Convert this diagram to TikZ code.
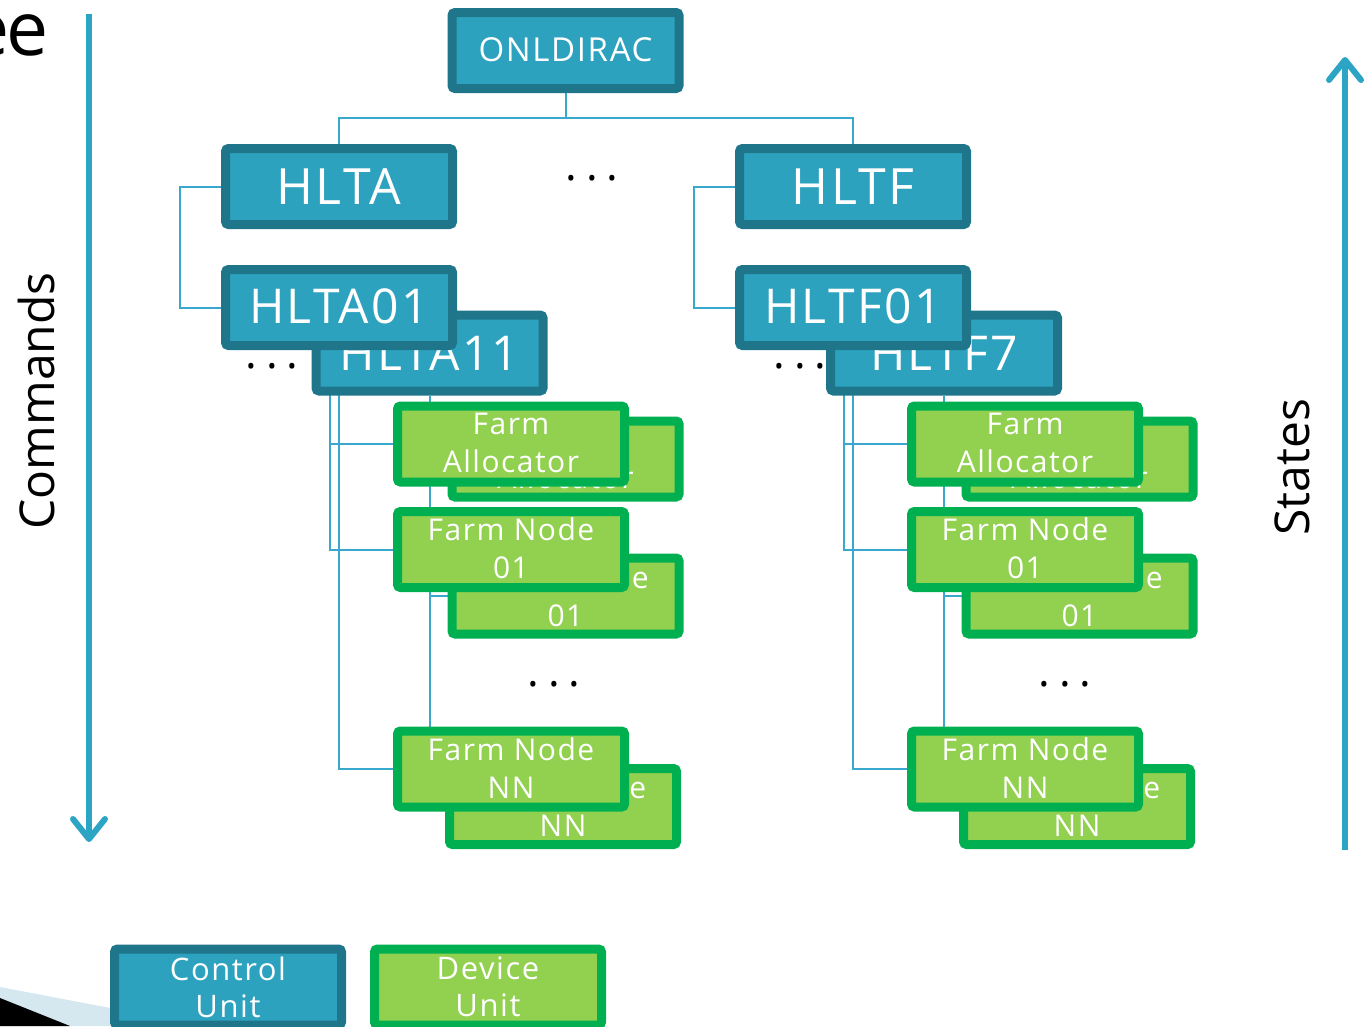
\documentclass[tikz,border=0pt]{standalone}
\usepackage{fontspec}
\setmainfont{Open Sans}
\newfontfamily\boxfont[LetterSpace=5]{Open Sans}
\usetikzlibrary{arrows.meta}
\definecolor{cufill}{HTML}{2CA2BF}
\definecolor{cuborder}{HTML}{1F7589}
\definecolor{dufill}{HTML}{92D050}
\definecolor{duborder}{HTML}{00B050}
\definecolor{linkc}{HTML}{3AA8CC}
\definecolor{arrowc}{HTML}{2CA4C4}
\definecolor{wedgeblue}{HTML}{D5E8F0}
\pgfdeclarelayer{bg}
\pgfsetlayers{bg,main}
\tikzset{
  unitbox/.style={line width=9pt, rounded corners=3pt, minimum width=227pt,
    minimum height=76pt, inner sep=0pt, text=white, align=center},
  cubox/.style={unitbox, draw=cuborder, fill=cufill},
  dubox/.style={unitbox, draw=duborder, fill=dufill,
    font=\boxfont\fontsize{30}{38}\selectfont},
  bigfont/.style={font=\boxfont\fontsize{50}{50}\selectfont},
  midfont/.style={font=\boxfont\fontsize{48}{48}\selectfont},
  link/.style={draw=linkc, line width=2pt},
  bigarrow/.style={draw=arrowc, line width=6pt, -{Straight Barb[length=20pt,width=32pt,round]}},
  dots/.style={font=\fontsize{44}{44}\selectfont, text=black, inner sep=0pt}
}
\newcommand{\dotrow}{.\kern9pt.\kern9pt.}
\begin{document}
\begin{tikzpicture}[x=1pt,y=-1pt]
\useasboundingbox (0,0) rectangle (1364,1026);
\clip (0,0) rectangle (1364,1026);

% decorative wedge bottom-left
\fill[wedgeblue] (0,987) -- (205,1026) -- (0,1026) -- cycle;
\fill[black] (0,998) -- (70,1026) -- (0,1026) -- cycle;

% title fragment
\node[anchor=base east, font=\fontsize{75}{75}\selectfont, inner sep=0pt] (title) at (49,55) {e\kern-3pt e};

% big arrows
\coordinate (cmdtop) at (89,14);
\coordinate (cmdbot) at (89,842);
\coordinate (stbot) at (1345,850);
\coordinate (sttop) at (1345,57);
\draw[bigarrow] (cmdtop) -- (cmdbot);
\draw[bigarrow] (stbot) -- (sttop);
\node[rotate=90, font=\fontsize{48}{48}\selectfont] (cmd) at (36,401) {Commands};
\node[rotate=90, font=\fontsize{48}{48}\selectfont] (states) at (1292,467) {States};

% top
\node[cubox, font=\boxfont\fontsize{33}{33}\selectfont] (onl) at (565.5,50.5) {\raisebox{2pt}{ONLDIRAC}};
\node[cubox, bigfont] (hlta) at (339,186.5) {HLTA};
\node[cubox, bigfont] (hltf) at (853,186.5) {HLTF};

% left subtree: back copy first, then front copy
\node[cubox, midfont] (hlta11) at (429.5,353) {HLTA11};
\node[cubox, midfont, text depth=0pt] (hlta01) at (339,307.5) {\raisebox{3pt}{HLTA01}};
\node[dubox] (fab1) at (565.5,459) {Farm\\Allocator};
\node[dubox] (fnb1) at (565.5,596) {Farm Node\\01};
\node[dubox] (fnnb1) at (563,806.5) {Farm Node\\NN};
\node[dubox] (fa1) at (511,444) {\raisebox{2pt}{Farm}\\\raisebox{2pt}{Allocator}};
\node[dubox] (fn1) at (511,549.5) {\raisebox{2pt}{Farm Node}\\\raisebox{2pt}{01}};
\node[dubox] (fnn1) at (511,769) {\raisebox{2pt}{Farm Node}\\\raisebox{2pt}{NN}};

% right subtree
\node[cubox, midfont] (hltf7) at (944,353) {HLTF7};
\node[cubox, midfont, text depth=0pt] (hltf01) at (853,307.5) {\raisebox{3pt}{HLTF01}};
\node[dubox] (fab2) at (1079.5,459) {Farm\\Allocator};
\node[dubox] (fnb2) at (1079.5,596) {Farm Node\\01};
\node[dubox] (fnnb2) at (1077,806.5) {Farm Node\\NN};
\node[dubox] (fa2) at (1025,444) {\raisebox{2pt}{Farm}\\\raisebox{2pt}{Allocator}};
\node[dubox] (fn2) at (1025,549.5) {\raisebox{2pt}{Farm Node}\\\raisebox{2pt}{01}};
\node[dubox] (fnn2) at (1025,769) {\raisebox{2pt}{Farm Node}\\\raisebox{2pt}{NN}};

% dots
\node[dots] (d1) at (592,178) {\dotrow};
\node[dots] (d2) at (272,366) {\dotrow};
\node[dots] (d3) at (800,366) {\dotrow};
\node[dots] (d4) at (554,684) {\dotrow};
\node[dots] (d5) at (1065,684) {\dotrow};

% legend
\node[cubox, font=\boxfont\fontsize{31}{37}\selectfont] (lcu) at (228,987) {Control\\Unit};
\node[dubox, font=\boxfont\fontsize{31}{37}\selectfont] (ldu) at (488,987) {Device\\Unit};

% connectors
\begin{pgfonlayer}{bg}
\coordinate (bar) at (565.5,118);
\draw[link] (onl.south) -- (bar) -| (hlta.north);
\draw[link] (bar) -| (hltf.north);
\draw[link] (hlta.west) -- ++(-41,0) |- (hlta01.west);
\draw[link] (hltf.west) -- ++(-41,0) |- (hltf01.west);
% left
\draw[link] ([xshift=-9pt]hlta01.south) |- (fa1.west);
\draw[link] ([xshift=-9pt]hlta01.south) |- (fn1.west);
\draw[link] (hlta01.south) |- (fnn1.west);
\draw[link] (hlta11.south) |- (fab1.west);
\draw[link] (hlta11.south) |- (fnb1.west);
\draw[link] (hlta11.south) |- (fnnb1.west);
% right
\draw[link] ([xshift=-9pt]hltf01.south) |- (fa2.west);
\draw[link] ([xshift=-9pt]hltf01.south) |- (fn2.west);
\draw[link] (hltf01.south) |- (fnn2.west);
\draw[link] (hltf7.south) |- (fab2.west);
\draw[link] (hltf7.south) |- (fnb2.west);
\draw[link] (hltf7.south) |- (fnnb2.west);
\end{pgfonlayer}
\end{tikzpicture}
\end{document}
